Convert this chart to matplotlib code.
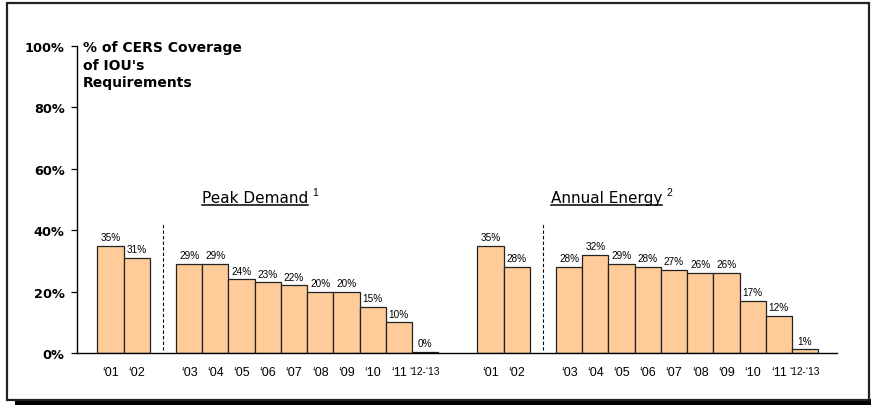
import numpy as np
import matplotlib.pyplot as plt
from matplotlib.patches import Rectangle

plt.rcParams['font.family'] = ['Liberation Sans', 'DejaVu Sans']

# CERS coverage of IOU requirements, in percent
years = ['\u201801', '\u201802', '\u201803', '\u201804', '\u201805', '\u201806',
         '\u201807', '\u201808', '\u201809', '\u201810', '\u201811', '\u201812-\u201813']
peak_demand = [35, 31, 29, 29, 24, 23, 22, 20, 20, 15, 10, 0.4]
annual_energy = [35, 28, 28, 32, 29, 28, 27, 26, 26, 17, 12, 1.2]

# slot positions (left edges) -- gap after '02 in each group
peak_x = np.array([0, 1] + list(range(3, 13)), dtype=float)
energy_x = peak_x + 14.5

fig = plt.figure(figsize=(8.71, 4.06), dpi=100)

# page frame with drop shadow
W, H = 871, 406
fig.patches.append(Rectangle((15 / W, 0), 1 - 15 / W, 6 / H, transform=fig.transFigure,
                             facecolor='black', edgecolor='none', zorder=-3))
fig.patches.append(Rectangle((7 / W, 5 / H), 862 / W, 397 / H, transform=fig.transFigure,
                             facecolor='white', edgecolor='#222222', lw=1.6, zorder=-2))

ax = fig.add_axes([77 / W, 52 / H, 760 / W, 307 / H])
ax.set_facecolor('none')

bar_kw = dict(width=1, align='edge', color='#ffcc99', edgecolor='#222222', linewidth=0.9)
ax.bar(peak_x, peak_demand, **bar_kw)
ax.bar(energy_x, annual_energy, **bar_kw)

for xs, vals in [(peak_x, peak_demand), (energy_x, annual_energy)]:
    for x, v in zip(xs, vals):
        ax.text(x + 0.5, v + 1.2, f'{v:.0f}%', ha='center', va='bottom', fontsize=7.2)
    ax.axvline(xs[0] + 2.5, ymin=0.01, ymax=0.42, color='black', lw=0.8, ls=(0, (3, 2)))

ax.set_xlim(-0.78, 28.22)
ax.set_ylim(0, 100)

# x tick labels, smaller for the last period
ticks = list(peak_x + 0.5) + list(energy_x + 0.5)
ax.set_xticks(ticks)
ax.set_xticklabels(years + years, fontsize=9)
for lbl in ax.get_xticklabels():
    if '12' in lbl.get_text():
        lbl.set_fontsize(7.3)
ax.tick_params(axis='x', length=0, pad=9.5)

ax.set_yticks(range(0, 101, 20))
ax.set_yticklabels([f'{v}%' for v in range(0, 101, 20)], fontsize=9.3,
                   fontweight='bold', family='DejaVu Sans')
ax.tick_params(axis='y', length=4, width=0.9, pad=5, direction='out')

for s in ['top', 'right']:
    ax.spines[s].set_visible(False)
ax.spines['left'].set_linewidth(1.0)
ax.spines['bottom'].set_linewidth(1.0)

ax.text(83 / W, 1 - 41 / H, "% of CERS Coverage\nof IOU's\nRequirements",
        transform=fig.transFigure, fontsize=10, fontweight='bold', va='top',
        ha='left', linespacing=1.33, family='DejaVu Sans')

# group headings
ax.text(6.0, 50.5, 'Peak Demand', ha='center', va='center', fontsize=11,
        family='DejaVu Sans')
ax.text(19.43, 50.5, 'Annual Energy', ha='center', va='center', fontsize=11,
        family='DejaVu Sans')
fig.canvas.draw()
r = fig.canvas.get_renderer()
for t, sup in zip(ax.texts[-2:], ['1', '2']):
    bb = t.get_window_extent(r)
    (x0, y0), (x1, y1) = fig.transFigure.inverted().transform([[bb.x0, bb.y0], [bb.x1, bb.y1]])
    fig.add_artist(plt.Line2D([x0, x1], [y0 + 0.002, y0 + 0.002], color='black', lw=1.1,
                              transform=fig.transFigure))
    fig.text(x1 + 0.005, y0 + 0.02, sup, fontsize=7.5, va='bottom', ha='left')

fig.savefig('out.png', dpi=100)
